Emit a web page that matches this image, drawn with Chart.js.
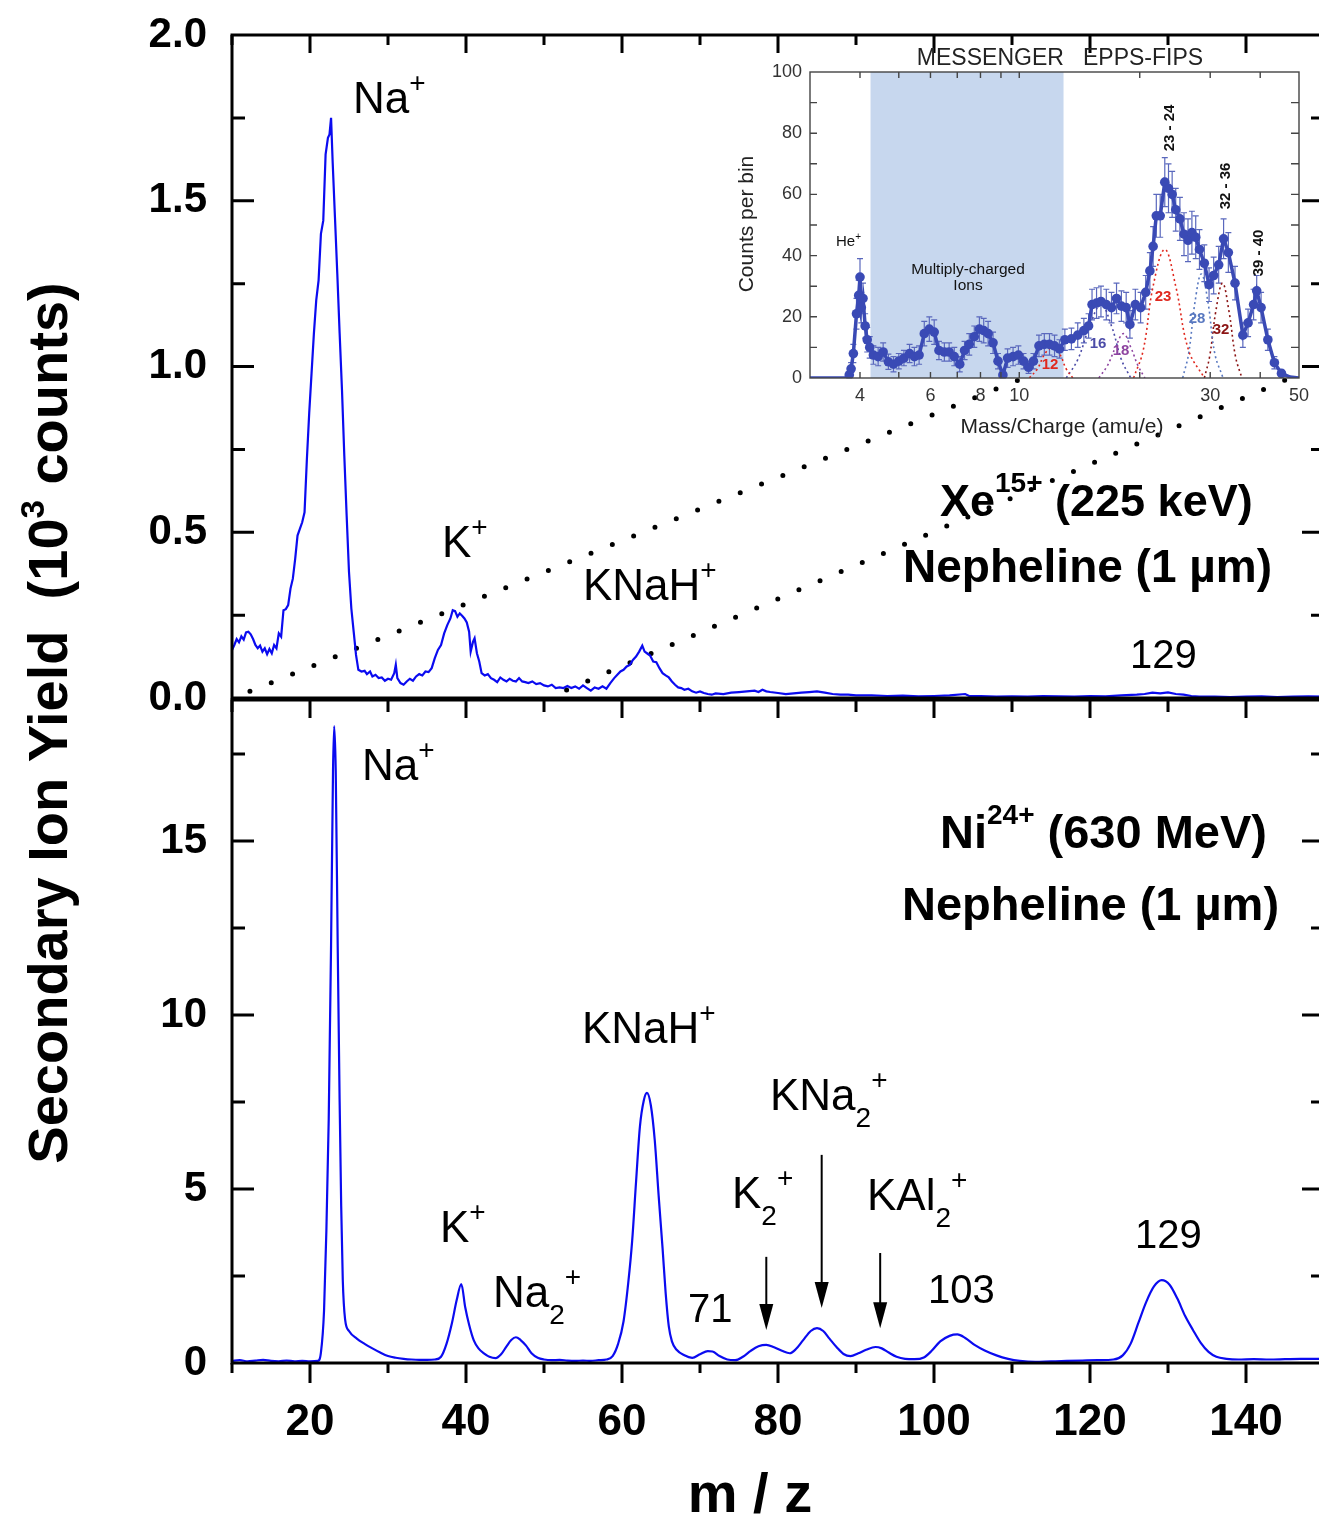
<!DOCTYPE html>
<html><head><meta charset="utf-8">
<script src="https://cdn.jsdelivr.net/npm/chart.js@4.4.1/dist/chart.umd.min.js"></script>
<style>
html,body{margin:0;padding:0;background:#fff;overflow:hidden;width:1319px;height:1517px;}
canvas{position:absolute;left:0;top:0;}
#cIn{left:735px;top:40px;}
</style></head><body>
<canvas id="cTop" width="1340" height="1517"></canvas>
<canvas id="cBot" width="1340" height="1517"></canvas>
<canvas id="cIn" width="584" height="405"></canvas>
<script>
// ---------- DATA ----------
// Top panel: Xe15+ (225 keV) on nepheline, yield in 10^3 counts
const xeMz = [10.0,10.3,10.6,10.9,11.2,11.5,11.8,12.1,12.4,12.7,
13.0,13.3,13.6,13.9,14.2,14.5,14.8,15.1,15.4,15.7,
16.0,16.3,16.6,16.9,17.2,17.5,17.8,18.1,18.4,18.7,
19.0,19.3,19.6,19.9,20.2,20.5,20.8,21.1,21.4,21.7,
22.0,22.3,22.5,22.7,22.9,23.2,23.5,23.8,24.1,24.4,
24.7,25.0,25.3,25.6,25.9,26.2,26.6,27.0,27.3,27.7,
28.0,28.4,28.8,29.2,29.6,30.0,30.4,30.8,31.0,31.2,
31.6,32.0,32.4,32.8,33.2,33.6,34.0,34.4,34.8,35.2,
35.6,36.0,36.4,36.8,37.2,37.6,38.0,38.3,38.6,38.9,
39.2,39.5,39.8,40.1,40.4,40.6,40.9,41.1,41.4,41.7,
42.0,42.4,42.8,43.2,43.6,44.0,44.4,44.8,45.2,45.6,
46.0,46.4,46.8,47.2,47.6,48.0,48.5,49.0,49.5,50.0,
50.5,51.0,51.5,52.0,52.5,53.0,53.5,54.0,54.5,55.0,
55.5,56.0,56.5,57.0,57.5,58.0,58.5,59.0,59.4,59.8,
60.2,60.6,61.0,61.4,61.8,62.2,62.6,62.9,63.2,63.6,
64.0,64.4,64.8,65.2,65.6,66.0,66.4,66.8,67.2,67.6,
68.0,68.5,69.0,69.5,70.0,70.5,71.0,71.5,72.0,73.0,
74,75,76,77,77.5,78,78.5,79,80,81,
82,83,84,85,86,87,88,89,90,92,
94,96,98,100,102,104,104.5,106,108,110,
112,114,116,118,120,122,124,126,127,128,
129,130,131,132,133,134,136,138,140,142,
144,146,148,150];
const xeYield = [.145,.160,.178,.168,.186,.176,.198,.200,.192,.178,
.160,.150,.158,.140,.150,.132,.148,.135,.160,.150,
.195,.185,.265,.268,.280,.330,.360,.420,.490,.510,
.530,.560,.720,.860,.980,1.10,1.20,1.26,1.40,1.44,
1.64,1.69,1.70,1.75,1.62,1.45,1.28,1.10,.93,.73,
.55,.38,.27,.20,.13,.085,.080,.082,.072,.080,
.065,.070,.060,.062,.052,.058,.055,.075,.100,.060,
.045,.040,.050,.058,.052,.065,.072,.068,.080,.078,
.090,.120,.145,.160,.195,.220,.240,.265,.262,.245,
.255,.248,.240,.228,.200,.140,.170,.180,.135,.110,
.075,.068,.072,.060,.055,.048,.062,.055,.050,.058,
.052,.050,.060,.050,.048,.045,.050,.042,.045,.038,
.035,.040,.030,.032,.030,.036,.030,.035,.028,.038,
.030,.022,.032,.028,.035,.028,.045,.060,.070,.080,
.085,.095,.100,.115,.125,.140,.158,.140,.135,.128,
.110,.108,.090,.075,.068,.062,.050,.040,.032,.030,
.025,.028,.020,.016,.020,.015,.012,.010,.014,.012,
.016,.018,.020,.022,.018,.025,.020,.018,.015,.012,
.014,.016,.018,.020,.016,.012,.010,.010,.008,.008,
.006,.007,.005,.006,.008,.012,.006,.006,.004,.005,
.004,.006,.005,.004,.006,.005,.008,.010,.012,.016,
.014,.017,.012,.010,.006,.004,.004,.003,.004,.005,
.003,.004,.005,.004];

// Bottom panel: Ni24+ (630 MeV) on nepheline
const niMz = [10,11,12,13,14,15,16,17,18,19,
20,21.0,21.4,21.8,22.1,22.4,22.7,22.95,23.1,23.3,
23.55,23.8,24.0,24.2,24.5,25.0,26.0,27.0,28.0,29.0,
30,31,32,33,34,35,36,36.8,37.5,38.2,
38.8,39.4,39.9,40.4,41.0,41.6,42.3,43.0,43.8,44.5,
45.2,45.8,46.4,47.0,47.7,48.4,49.2,50,51,52,
53,54,55,56,57,58,58.8,59.5,60.2,60.8,
61.3,61.8,62.3,62.8,63.2,63.7,64.2,64.7,65.2,65.6,
66.0,66.4,67.0,68.0,69.0,70.0,71.0,71.6,72.5,73.5,
74.5,75.5,76.5,77.5,78.5,79.5,80.5,81.5,82.3,83.2,
84.2,85.0,85.8,86.6,87.5,88.4,89.3,90.3,91.3,92.5,
93.3,94.2,95.2,96.3,97.5,98.7,99.7,100.8,102.0,103.0,
104.0,105.2,106.5,108.0,109.5,111,113,115,117,119,
121,123,124.2,125.2,126.2,127.2,128.2,129.2,130.2,131.2,
132.2,133.2,134.2,135.2,136.2,137.5,139,141,143,145,
147,149,150];
const niYield = [.06,.08,.05,.07,.09,.06,.05,.07,.05,.06,
.05,.06,.30,1.5,3.8,7.0,12.0,17.0,18.3,17.0,
12.0,7.5,4.5,2.4,1.25,.92,.70,.55,.42,.30,
.20,.15,.12,.10,.09,.09,.10,.18,.55,1.15,
1.80,2.27,1.60,1.10,.65,.42,.28,.18,.14,.25,
.48,.66,.74,.66,.50,.28,.15,.10,.08,.09,
.07,.06,.07,.06,.08,.10,.20,.55,1.20,2.30,
3.50,5.2,6.8,7.55,7.76,7.40,6.40,4.80,3.30,2.00,
1.05,.62,.38,.22,.15,.25,.34,.33,.20,.10,
.08,.18,.35,.48,.52,.45,.35,.28,.40,.65,
.92,1.00,.92,.70,.46,.26,.20,.28,.38,.46,
.42,.30,.18,.12,.11,.16,.35,.62,.78,.82,
.72,.52,.36,.22,.12,.06,.03,.05,.06,.07,
.08,.10,.22,.55,1.15,1.75,2.20,2.38,2.25,1.85,
1.35,.95,.58,.32,.18,.12,.10,.11,.10,.11,
.12,.12,.13];

// Zoom guide lines (top panel, data units)
const guideAMz = [12.3, 110.8], guideAY = [0.020, 0.959];
const guideBMz = [52.9, 145.6], guideBY = [0.024, 0.965];

// Inset: MESSENGER EPPS-FIPS counts per bin
const insetMz = [3.0,3.7,3.76,3.80,3.85,3.92,3.97,4.00,4.03,4.07,
4.12,4.17,4.23,4.32,4.44,4.57,4.71,4.85,5.0,5.15,
5.32,5.47,5.62,5.79,5.96,6.13,6.30,6.50,6.68,6.88,
7.1,7.3,7.5,7.72,7.95,8.15,8.36,8.6,8.85,9.1,
9.35,9.65,9.95,10.25,10.55,10.85,11.2,11.55,11.9,12.25,
12.6,13.0,13.5,14.0,14.5,14.9,15.2,15.6,16.0,16.5,
17.0,17.5,18.0,18.5,18.9,19.5,20.1,20.7,21.2,21.6,
22.0,22.5,23.1,23.6,24.1,24.6,25.2,25.8,26.4,27.0,
27.6,28.2,29.0,29.8,30.6,31.5,32.4,33.3,34.6,36.2,
37.3,38.5,39.2,40.2,41.8,43.4,45.2,47.5,50];
const insetCounts = [0,0,1,3,8,21,27,33,23,26,
17,12.5,10,7.5,7,8.5,5.3,4.5,5.5,6.5,
8,7,7.5,14.5,16,15,9,8.5,8.5,7,
4.5,9,11,13.5,16,15.5,14.5,11.5,5.5,1,
6.5,7,7.5,5.5,3.5,5.5,10.5,11,11,10.5,
9.5,12.5,12.8,14,15.5,17,24,24.5,25,24,
23,26,23.5,23,17.5,24,23,28,35,43,
53,53,64,62,60,55,52,47,45,47.5,
46,42,37.5,30.5,33.5,37,45.5,41,31,14,
18,24,28.5,23,12.5,5,1.5,0.3,0];
const insetErr = [null,null,1,2,3,5,5,6,5,5,
4,4,3.5,3,3,3,2.5,2.5,2.5,2.5,
3,3,3,4,4,4,3,3,3,3,
2.5,3,3.5,3.5,4,4,4,3.5,2.5,1.5,
3,3,3,2.5,2,2.5,3.5,3.5,3.5,3.5,
3,3.5,3.5,4,4,4,5,5,5,5,
5,5,5,5,4.5,5,5,5.5,6,6.5,
7,7,8,8,7.5,7,7,7,7,7,
7,6.5,6,5.5,6,6,6.5,6.5,5.5,4,
4.5,5,5,5,3.5,2,1,null,null];
// fitted components (dotted)
const comp12Mz = [10.6,11.1,11.6,12.1,12.6,13.1,13.6], comp12Y = [0,3,8,10,8,3,0];
const comp16Mz = [13.1,14.0,15.0,16.0,17.0,18.0,19.0], comp16Y = [0,6,17,24,17,6,0];
const comp18Mz = [15.8,16.6,17.4,18.2,19.0,19.8,20.6], comp18Y = [0,4,10,14.5,10,4,0];
const comp23Mz = [19.3,20.4,21.6,23.1,24.6,26.5,29.0], comp23Y = [0,9,30,42,30,9,0];
const comp28Mz = [25.6,26.5,27.5,28.5,29.6,30.8,32.3], comp28Y = [0,8,25,34,25,8,0];
const comp32Mz = [29.0,29.9,31.0,32.2,33.4,34.7,36.0], comp32Y = [0,7,22,31,22,7,0];
const insetTickVals = [3,4,5,6,7,8,9,10,20,30,40,50];
const insetTickLabels = [4,6,8,10,30,50];

// ---------- HELPERS ----------
const FF = '"Liberation Sans", Arial, Helvetica, sans-serif';
const BLUE = '#0b0bf0';
const pts = (xs, ys) => xs.map((x, i) => ({x, y: ys[i]}));
function noPad(s) { s.paddingTop = 0; s.paddingBottom = 0; s.paddingLeft = 0; s.paddingRight = 0; }
function rich(ctx, x, y, parts, align) {
  ctx.textAlign = 'left'; ctx.textBaseline = 'alphabetic';
  let w = 0;
  parts.forEach(p => { ctx.font = `${p[2] || 'normal'} ${p[1]}px ${FF}`; w += ctx.measureText(p[0]).width; });
  let cx = align === 'center' ? x - w / 2 : (align === 'right' ? x - w : x);
  parts.forEach(p => {
    ctx.font = `${p[2] || 'normal'} ${p[1]}px ${FF}`;
    ctx.fillText(p[0], cx, y + (p[3] || 0));
    cx += ctx.measureText(p[0]).width;
  });
}
const SUP = -21, SUB = 17;

// ---------- TOP CHART ----------
const topPlugin = {
  id: 'topDeco',
  afterDraw(chart) {
    const {ctx, chartArea: ca, scales: {x, y}} = chart;
    ctx.save();
    ctx.strokeStyle = '#000'; ctx.lineWidth = 3;
    ctx.strokeRect(ca.left, ca.top, ca.right - ca.left, ca.bottom - ca.top);
    ctx.beginPath();
    for (let v = 10; v <= 150; v += 10) {
      const px = x.getPixelForValue(v), L = v % 20 === 0 ? 18 : 10;
      ctx.moveTo(px, ca.top); ctx.lineTo(px, ca.top + L);
    }
    for (let k = 1; k < 8; k++) {
      const py = y.getPixelForValue(k * 0.25), L = k % 2 === 0 ? 22 : 13;
      ctx.moveTo(ca.left, py); ctx.lineTo(ca.left + L, py);
      ctx.moveTo(ca.right, py); ctx.lineTo(ca.right - L, py);
    }
    ctx.stroke();
    ctx.fillStyle = '#000';
    rich(ctx, 353, 113, [['Na', 44], ['+', 28, 'normal', SUP]]);
    rich(ctx, 442, 557, [['K', 44], ['+', 28, 'normal', SUP]]);
    rich(ctx, 583, 600, [['KNaH', 44], ['+', 28, 'normal', SUP]]);
    rich(ctx, 940, 516, [['Xe', 45, 'bold'], ['15+', 28, 'bold', -24], [' (225 keV)', 45, 'bold']]);
    rich(ctx, 903, 582, [['Nepheline (1 \u00b5m)', 46, 'bold']]);
    rich(ctx, 1130, 668, [['129', 40]]);
    ctx.restore();
  }
};
new Chart(document.getElementById('cTop'), {
  type: 'line',
  data: {datasets: [
    {data: pts(xeMz, xeYield), borderColor: BLUE, borderWidth: 2.2, pointRadius: 0, tension: 0},
    {data: pts(guideAMz, guideAY), borderColor: '#000', borderWidth: 5, borderDash: [0, 23], borderCapStyle: 'round', pointRadius: 0},
    {data: pts(guideBMz, guideBY), borderColor: '#000', borderWidth: 5, borderDash: [0, 23], borderCapStyle: 'round', pointRadius: 0}
  ]},
  options: {
    responsive: false, animation: false, events: [],
    layout: {autoPadding: false, padding: {left: 0, right: 16, top: 35, bottom: 819}},
    plugins: {legend: {display: false}, tooltip: {enabled: false}},
    scales: {
      x: {type: 'linear', min: 10, max: 150, display: false},
      y: {type: 'linear', min: 0, max: 2, position: 'left',
        afterFit: s => { s.width = 232; noPad(s); },
        grid: {display: false, drawTicks: false}, border: {display: false},
        ticks: {stepSize: 0.5, padding: 25, color: '#000', font: {family: FF, size: 42, weight: 'bold'},
          callback: v => Number(v).toFixed(1)}}
    }
  },
  plugins: [topPlugin]
});

// ---------- BOTTOM CHART ----------
const botPlugin = {
  id: 'botDeco',
  afterDraw(chart) {
    const {ctx, chartArea: ca, scales: {x, y}} = chart;
    ctx.save();
    ctx.strokeStyle = '#000'; ctx.lineWidth = 3;
    ctx.strokeRect(ca.left, ca.top, ca.right - ca.left, ca.bottom - ca.top);
    ctx.beginPath();
    for (let v = 10; v <= 150; v += 10) {
      const px = x.getPixelForValue(v);
      const Lt = v % 20 === 0 ? 18 : 12, Lb = v % 20 === 0 ? 20 : 10;
      ctx.moveTo(px, ca.top); ctx.lineTo(px, ca.top + Lt);
      ctx.moveTo(px, ca.bottom); ctx.lineTo(px, ca.bottom + Lb);
    }
    for (let k = 1; k < 8; k++) {
      const py = y.getPixelForValue(k * 2.5), L = k % 2 === 0 ? 22 : 13;
      ctx.moveTo(ca.left, py); ctx.lineTo(ca.left + L, py);
      ctx.moveTo(ca.right, py); ctx.lineTo(ca.right - L, py);
    }
    ctx.stroke();
    // arrows
    const arrows = [[78.5, 3.05, 0.95], [85.6, 5.98, 1.58], [93.1, 3.16, 1.0]];
    ctx.lineWidth = 2; ctx.fillStyle = '#000';
    arrows.forEach(a => {
      const px = x.getPixelForValue(a[0]), pt = y.getPixelForValue(a[1]), pb = y.getPixelForValue(a[2]);
      ctx.beginPath(); ctx.moveTo(px, pt); ctx.lineTo(px, pb - 20); ctx.stroke();
      ctx.beginPath(); ctx.moveTo(px - 7, pb - 26); ctx.lineTo(px + 7, pb - 26); ctx.lineTo(px, pb); ctx.closePath(); ctx.fill();
    });
    rich(ctx, 362, 780, [['Na', 44], ['+', 28, 'normal', SUP]]);
    rich(ctx, 940, 848, [['Ni', 47, 'bold'], ['24+', 28, 'bold', -24], [' (630 MeV)', 47, 'bold']]);
    rich(ctx, 902, 920, [['Nepheline (1 \u00b5m)', 47, 'bold']]);
    rich(ctx, 582, 1043, [['KNaH', 44], ['+', 28, 'normal', SUP]]);
    rich(ctx, 770, 1110, [['KNa', 44], ['2', 28, 'normal', SUB], ['+', 28, 'normal', SUP]]);
    rich(ctx, 732, 1208, [['K', 44], ['2', 28, 'normal', SUB], ['+', 28, 'normal', SUP]]);
    rich(ctx, 867, 1210, [['KAl', 44], ['2', 28, 'normal', SUB], ['+', 28, 'normal', SUP]]);
    rich(ctx, 440, 1242, [['K', 44], ['+', 28, 'normal', SUP]]);
    rich(ctx, 493, 1307, [['Na', 44], ['2', 28, 'normal', SUB], ['+', 28, 'normal', SUP]]);
    rich(ctx, 688, 1322, [['71', 40]]);
    rich(ctx, 928, 1303, [['103', 40]]);
    rich(ctx, 1135, 1248, [['129', 40]]);
    // axis titles
    rich(ctx, 750, 1512, [['m / z', 56, 'bold']], 'center');
    ctx.save();
    ctx.translate(67, 723); ctx.rotate(-Math.PI / 2);
    rich(ctx, 0, 0, [['Secondary Ion Yield  (10', 56, 'bold'], ['3', 33, 'bold', -23], [' counts)', 56, 'bold']], 'center');
    ctx.restore();
    ctx.restore();
  }
};
new Chart(document.getElementById('cBot'), {
  type: 'line',
  data: {datasets: [
    {data: pts(niMz, niYield), borderColor: BLUE, borderWidth: 2.2, pointRadius: 0, cubicInterpolationMode: 'monotone'}
  ]},
  options: {
    responsive: false, animation: false, events: [],
    layout: {autoPadding: false, padding: {left: 0, right: 16, top: 700, bottom: 0}},
    plugins: {legend: {display: false}, tooltip: {enabled: false}},
    scales: {
      x: {type: 'linear', min: 10, max: 150, position: 'bottom',
        afterFit: s => { s.height = 154; noPad(s); },
        grid: {display: false, drawTicks: false}, border: {display: false},
        ticks: {stepSize: 10, autoSkip: false, maxRotation: 0, padding: 33, color: '#000',
          font: {family: FF, size: 44, weight: 'bold'},
          callback: v => (v % 20 === 0 && v <= 140) ? String(v) : ''}},
      y: {type: 'linear', min: 0, max: 19.05, position: 'left',
        afterFit: s => { s.width = 232; noPad(s); },
        grid: {display: false, drawTicks: false}, border: {display: false},
        ticks: {stepSize: 5, padding: 25, color: '#000', font: {family: FF, size: 42, weight: 'bold'},
          callback: v => (v % 5 === 0) ? String(v) : ''}}
    }
  },
  plugins: [botPlugin]
});

// ---------- INSET ----------
const OX = 735, OY = 40;
const insetPlugin = {
  id: 'insetDeco',
  beforeDraw(chart) {
    const {ctx, chartArea: ca} = chart;
    ctx.save(); ctx.fillStyle = '#fff';
    ctx.fillRect(ca.left, ca.top, ca.right - ca.left, ca.bottom - ca.top);
    ctx.restore();
  },
  beforeDatasetsDraw(chart) {
    const {ctx, chartArea: ca, scales: {x, y}} = chart;
    ctx.save();
    ctx.fillStyle = '#c7d7ee';
    const a = x.getPixelForValue(4.25), b = x.getPixelForValue(12.9);
    ctx.fillRect(a, ca.top, b - a, ca.bottom - ca.top);
    ctx.strokeStyle = '#5a68bd'; ctx.lineWidth = 1.2;
    ctx.beginPath();
    insetMz.forEach((m, i) => {
      const e = insetErr[i]; if (e === null) return;
      const c = insetCounts[i];
      const px = x.getPixelForValue(m), p1 = y.getPixelForValue(c + e), p2 = y.getPixelForValue(Math.max(c - e, 0));
      ctx.moveTo(px, p1); ctx.lineTo(px, p2);
      ctx.moveTo(px - 3, p1); ctx.lineTo(px + 3, p1);
      ctx.moveTo(px - 3, p2); ctx.lineTo(px + 3, p2);
    });
    ctx.stroke();
    ctx.restore();
  },
  afterDraw(chart) {
    const {ctx, chartArea: ca, scales: {x, y}} = chart;
    ctx.save();
    ctx.strokeStyle = '#444'; ctx.lineWidth = 1.4;
    ctx.strokeRect(ca.left, ca.top, ca.right - ca.left, ca.bottom - ca.top);
    ctx.beginPath();
    for (let v = 10; v < 100; v += 10) {
      const py = y.getPixelForValue(v);
      ctx.moveTo(ca.left, py); ctx.lineTo(ca.left + 7, py);
      ctx.moveTo(ca.right, py); ctx.lineTo(ca.right - 8, py);
    }
    insetTickVals.forEach(v => {
      if (v <= 3 || v >= 50) return;
      const px = x.getPixelForValue(v);
      ctx.moveTo(px, ca.top); ctx.lineTo(px, ca.top + 6);
      ctx.moveTo(px, ca.bottom); ctx.lineTo(px, ca.bottom - 6);
    });
    ctx.stroke();
    ctx.fillStyle = '#222';
    rich(ctx, 1060 - OX, 65 - OY, [['MESSENGER   EPPS-FIPS', 23]], 'center');
    rich(ctx, 1062 - OX, 433 - OY, [['Mass/Charge (amu/e)', 21]], 'center');
    ctx.save(); ctx.translate(753 - OX, 224 - OY); ctx.rotate(-Math.PI / 2);
    rich(ctx, 0, 0, [['Counts per bin', 21]], 'center');
    ctx.restore();
    ctx.fillStyle = '#111';
    rich(ctx, 836 - OX, 246 - OY, [['He', 15], ['+', 10, 'normal', -6]]);
    rich(ctx, 968 - OX, 274 - OY, [['Multiply-charged', 15.5]], 'center');
    rich(ctx, 968 - OX, 290 - OY, [['Ions', 15.5]], 'center');
    [['23 - 24', 1174, 128], ['32 - 36', 1230, 186], ['39 - 40', 1263, 253]].forEach(t => {
      ctx.save(); ctx.translate(t[1] - OX, t[2] - OY); ctx.rotate(-Math.PI / 2);
      rich(ctx, 0, 0, [[t[0], 15, 'bold']], 'center');
      ctx.restore();
    });
    [['12', 1050, 369, '#e0281e'], ['16', 1098, 348, '#4c4ca8'], ['18', 1121, 355, '#8e44a0'],
     ['23', 1163, 301, '#e0281e'], ['28', 1197, 323, '#5878c0'], ['32', 1221, 334, '#8b1414']].forEach(t => {
      ctx.fillStyle = t[3];
      rich(ctx, t[1] - OX, t[2] - OY, [[t[0], 15, 'bold']], 'center');
    });
    ctx.restore();
  }
};
const compStyle = (c) => ({borderColor: c, borderWidth: 1.6, borderDash: [2, 3], pointRadius: 0, tension: 0.4});
new Chart(document.getElementById('cIn'), {
  type: 'line',
  data: {datasets: [
    {data: pts(insetMz, insetCounts), borderColor: '#3a4ab5', borderWidth: 3.5, tension: 0,
      pointRadius: c => insetErr[c.dataIndex] === null ? 0 : 4.8, pointBackgroundColor: '#3a4ab5', pointBorderWidth: 0},
    Object.assign({data: pts(comp12Mz, comp12Y)}, compStyle('#e0281e')),
    Object.assign({data: pts(comp16Mz, comp16Y)}, compStyle('#4c4ca8')),
    Object.assign({data: pts(comp18Mz, comp18Y)}, compStyle('#8e44a0')),
    Object.assign({data: pts(comp23Mz, comp23Y)}, compStyle('#e0281e')),
    Object.assign({data: pts(comp28Mz, comp28Y)}, compStyle('#5878c0')),
    Object.assign({data: pts(comp32Mz, comp32Y)}, compStyle('#8b1414'))
  ]},
  options: {
    responsive: false, animation: false, events: [],
    layout: {autoPadding: false, padding: {left: 0, right: 20, top: 32, bottom: 0}},
    plugins: {legend: {display: false}, tooltip: {enabled: false}},
    scales: {
      x: {type: 'logarithmic', min: 3, max: 50,
        afterFit: s => { s.height = 67; noPad(s); },
        afterBuildTicks: s => { s.ticks = insetTickVals.map(v => ({value: v})); },
        grid: {display: false, drawTicks: false}, border: {display: false},
        ticks: {autoSkip: false, maxRotation: 0, padding: 7, color: '#333', font: {family: FF, size: 18},
          callback: v => insetTickLabels.includes(v) ? String(v) : ''}},
      y: {type: 'linear', min: 0, max: 100,
        afterFit: s => { s.width = 75; noPad(s); },
        grid: {display: false, drawTicks: false}, border: {display: false},
        ticks: {stepSize: 20, padding: 8, color: '#333', font: {family: FF, size: 18}}}
    }
  },
  plugins: [insetPlugin]
});
</script></body></html>
